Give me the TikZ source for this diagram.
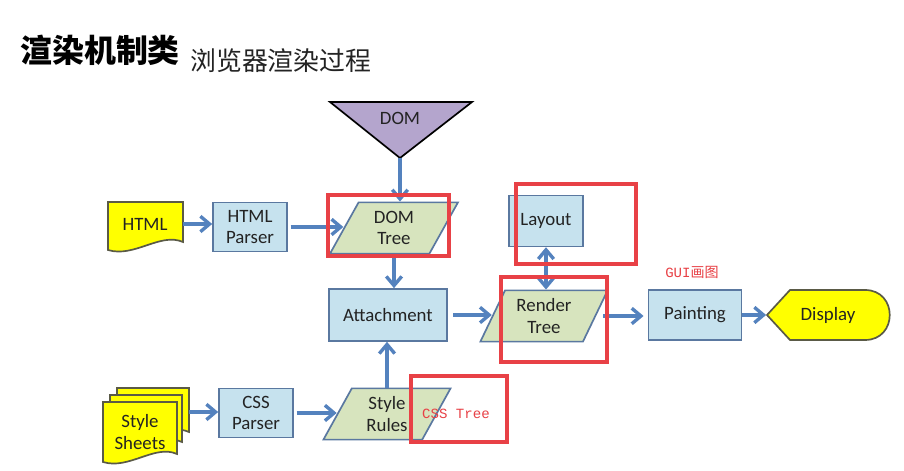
\documentclass[tikz,border=0pt]{standalone}
\usepackage{fontspec}
\setmainfont{Carlito}
\newfontfamily\cjk{Noto Sans CJK SC}
\newfontfamily\redmono{Liberation Mono}
\usetikzlibrary{shapes.geometric}
\usetikzlibrary{arrows.meta}
\usetikzlibrary{positioning}
\definecolor{boxfill}{RGB}{198,226,238}
\definecolor{boxline}{RGB}{90,120,160}
\definecolor{datafill}{RGB}{215,228,190}
\definecolor{flowblue}{RGB}{84,130,190}
\definecolor{markred}{RGB}{232,65,70}
\definecolor{docyellow}{RGB}{255,255,0}
\definecolor{docline}{RGB}{90,90,70}
\definecolor{domfill}{RGB}{180,165,205}
\definecolor{labeltext}{RGB}{35,35,35}
\newcommand{\labelfont}{\fontsize{13.4}{15}\selectfont}
\tikzstyle{procbox}=[rectangle, draw=boxline, fill=boxfill, line width=1.2pt,
  minimum width=1.85cm, minimum height=1.22cm, align=center,
  font=\labelfont, text=labeltext]
\tikzstyle{databox}=[trapezium, trapezium left angle=65, trapezium right angle=115,
  trapezium stretches=true, draw=boxline, fill=datafill, line width=1.2pt,
  minimum width=3.2cm, minimum height=1.28cm, align=center,
  font=\labelfont, text=labeltext]
\tikzstyle{plain}=[align=center, inner sep=0pt, font=\labelfont, text=labeltext]
\tikzstyle{yellowfill}=[fill=docyellow, draw=docline, line width=1.2pt]
\tikzstyle{flowarr}=[line width=2.4pt, draw=flowblue,
  -{Straight Barb[length=6.5pt,width=11pt]}]
\tikzstyle{markbox}=[draw=markred, line width=2.2pt]
\tikzstyle{marktext}=[text=markred, inner sep=0pt,
  font=\redmono\fontsize{10}{12}\selectfont]
% x, y, width, height of one sheet with a wavy bottom
\newcommand{\docsheet}[4]{\draw[yellowfill] (#1,#2) -- ({#1+#3},#2) -- ({#1+#3},{#2+#4-8})
  .. controls ({#1+0.7*#3},{#2+#4-18}) and ({#1+0.35*#3},{#2+#4+8}) .. (#1,{#2+#4}) -- cycle;}

\begin{document}
\begin{tikzpicture}[x=0.025cm, y=-0.025cm]
\useasboundingbox[fill=white] (0,0) rectangle (904,471);

\node[anchor=west, inner sep=0pt, font=\cjk\bfseries\fontsize{22.7}{26}\selectfont]
  (title) at (20,50) {渲染机制类};
\node[anchor=west, inner sep=0pt, font=\cjk\fontsize{18.4}{22}\selectfont, text=labeltext]
  (subtitle) at (190,61) {浏览器渲染过程};

% top row
\draw[fill=domfill, draw=black, line width=1.2pt] (330,102) -- (472,102) -- (400,158) -- cycle;
\node[plain] (dom) at (400,118) {DOM};
\coordinate (domtip) at (400,158);

\docsheet{108}{202}{75}{48}
\node[plain, minimum width=1.875cm, minimum height=1.2cm] (html) at (145,224) {HTML};
\node[procbox] (htmlparser) at (250,227) {HTML\\Parser};
\node[databox] (domtree) at (394,228) {DOM\\Tree};
\node[procbox, minimum height=1.27cm] (layout) at (546,221) {Layout};

% middle row
\node[procbox, minimum width=2.95cm, minimum height=1.3cm] (attachment) at (388,315) {Attachment};
\node[databox] (rendertree) at (544,316) {Render\\Tree};
\node[procbox, minimum width=2.32cm, minimum height=1.25cm] (painting) at (695,315) {Painting};
\draw[yellowfill] (790,290) -- (865,290) .. controls (898,290) and (898,340) .. (865,340)
  -- (790,340) -- (767,315) -- cycle;
\node[plain, minimum width=3.08cm, minimum height=1.25cm] (display) at (828,315) {Display};

% bottom row
\docsheet{117}{388}{72}{52}
\docsheet{110}{395}{72}{55}
\docsheet{103}{402}{74}{60}
\node[plain, minimum width=1.85cm, minimum height=1.5cm] (stylesheets) at (140,432) {Style\\Sheets};
\coordinate (sheetsedge) at (189,412);
\node[procbox] (cssparser) at (256,413) {CSS\\Parser};
\node[databox] (stylerules) at (387,414) {Style\\Rules};

\draw[flowarr] (domtip) -- (domtip |- domtree.north);
\draw[flowarr] (html.east) -- (html.east -| htmlparser.west);
\draw[flowarr, shorten <=2pt] (htmlparser.east) -- (htmlparser.east -| domtree.west);
\draw[flowarr] (domtree.south) -- (domtree.south |- attachment.north);
\draw[flowarr, shorten <=4pt] (attachment.east) -- (attachment.east -| rendertree.west);
\draw[flowarr, {Straight Barb[length=6.5pt,width=11pt]}-{Straight Barb[length=6.5pt,width=11pt]}]
  (layout.south) -- (layout.south |- rendertree.north);
\draw[flowarr, shorten <=5pt, shorten >=3pt] (rendertree.east) -- (rendertree.east -| painting.west);
\draw[flowarr] (painting.east) -- (painting.east -| display.west);
\draw[flowarr] (sheetsedge) -- (sheetsedge -| cssparser.west);
\draw[flowarr, shorten <=2pt] (cssparser.east) -- (cssparser.east -| stylerules.west);
\draw[flowarr] (stylerules.north) -- (stylerules.north |- attachment.south);

% red marks
\draw[markbox] (328,195) rectangle (449,256);
\draw[markbox] (516,184) rectangle (636,264);
\draw[markbox] (501,277) rectangle (607,362);
\draw[markbox] (411,376) rectangle (507,442);
\node[marktext] (guilabel) at (692,272) {GUI{\cjk 画图}};
\node[marktext] (csslabel) at (456,414) {CSS Tree};

\end{tikzpicture}
\end{document}
